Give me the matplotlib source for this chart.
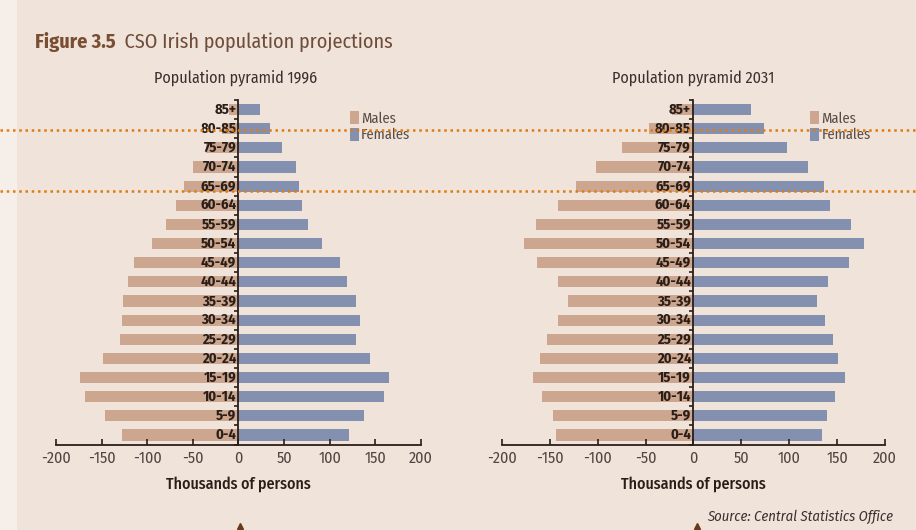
import matplotlib
matplotlib.use("Agg")
import matplotlib.pyplot as plt
from matplotlib.lines import Line2D
from matplotlib.patches import Patch, Rectangle

plt.rcParams["font.family"] = ["Fira Sans Condensed", "DejaVu Sans"]

# age groups, bottom to top
ages = ["0-4", "5-9", "10-14", "15-19", "20-24", "25-29", "30-34", "35-39", "40-44",
        "45-49", "50-54", "55-59", "60-64", "65-69", "70-74", "75-79", "80-85", "85+"]

# thousands of persons
males_1996 = [128, 146, 168, 174, 149, 130, 128, 126, 121, 115, 95, 79, 69, 60, 50, 36, 18, 10]
females_1996 = [121, 137, 159, 165, 144, 129, 133, 129, 119, 111, 91, 76, 70, 66, 63, 48, 35, 24]

males_2031 = [144, 147, 158, 168, 160, 153, 141, 131, 141, 163, 177, 164, 141, 123, 102, 75, 46, 22]
females_2031 = [134, 139, 148, 158, 151, 146, 137, 129, 140, 162, 178, 165, 143, 136, 120, 98, 74, 60]

xticks = [-200, -150, -100, -50, 0, 50, 100, 150, 200]

BG = "#efe3da"
MALE = "#cca68e"
FEMALE = "#8490b0"
DARK = "#2a1e18"


def pyramid(ax, males, females):
    y = list(range(len(ages)))
    ax.barh(y, [-m for m in males], height=0.58, color=MALE, edgecolor="none")
    ax.barh(y, females, height=0.58, color=FEMALE, edgecolor="none")
    ax.set_xlim(-200, 200)
    ax.set_ylim(-0.52, len(ages) - 0.55)
    ax.set_facecolor("none")

    for s in ("top", "right"):
        ax.spines[s].set_visible(False)
    ax.spines["left"].set_position(("data", 0))
    ax.spines["left"].set_linewidth(1.3)
    ax.spines["bottom"].set_linewidth(1.3)
    ax.spines["left"].set_color(DARK)
    ax.spines["bottom"].set_color(DARK)

    ax.set_yticks([k + 0.5 for k in range(-1, len(ages))])
    ax.set_yticklabels([])
    ax.tick_params(axis="y", direction="out", length=3, width=1.2, color=DARK)

    ax.set_xticks(xticks)
    ax.set_xticklabels([str(t) for t in xticks])
    ax.tick_params(axis="x", direction="in", length=4, width=1.2, color=DARK,
                   labelsize=11.5, labelcolor="#4f4542", pad=4)

    for i, a in enumerate(ages):
        ax.text(-2.5, i, a, ha="right", va="center", fontsize=10.5,
                fontweight="bold", color=DARK)

    ax.set_xlabel("Thousands of persons", fontsize=11.5, fontweight="medium",
                  color=DARK, labelpad=7)

    handles = [Patch(facecolor=MALE, edgecolor="none"),
               Patch(facecolor=FEMALE, edgecolor="none")]
    ax.legend(handles, ["Males", "Females"], loc="upper left",
              bbox_to_anchor=(0.79, 0.985), frameon=False,
              labelcolor="#5a4c44", handlelength=0.6, handleheight=1.0,
              handletextpad=0.15, labelspacing=0.15, borderaxespad=0,
              prop={"size": 10.5})


fig = plt.figure(figsize=(9.16, 5.30), dpi=100, facecolor=BG)

# pale strip along the left edge
fig.add_artist(Rectangle((0, 0), 17 / 916, 1, transform=fig.transFigure,
                         facecolor="#f6eee8", edgecolor="none", zorder=0))

ax1 = fig.add_axes([0.0611, 0.1604, 0.3985, 0.6509])
ax2 = fig.add_axes([0.5480, 0.1604, 0.4181, 0.6509])
pyramid(ax1, males_1996, females_1996)
pyramid(ax2, males_2031, females_2031)

fig.text(0.257, 0.853, "Population pyramid 1996", ha="center", va="center",
         fontsize=11.5, color="#3a3030")
fig.text(0.757, 0.853, "Population pyramid 2031", ha="center", va="center",
         fontsize=11.5, color="#3a3030")

t = fig.text(0.038, 0.92, "Figure 3.5", ha="left", va="center", fontsize=14.5,
             fontweight="bold", color="#7a4e33")
fig.add_artist(plt.Annotation("  CSO Irish population projections", xy=(1, 0.5),
                              xycoords=t, ha="left", va="center", fontsize=14.5,
                              color="#6e4c38"))

fig.text(0.975, 0.025, "Source: Central Statistics Office", ha="right", va="center",
         fontsize=10.5, style="italic", color="#3a3030")

# orange dotted guide lines across the whole picture
for yy in (1 - 130 / 530, 1 - 191 / 530):
    fig.add_artist(Line2D([0, 1], [yy, yy], transform=fig.transFigure,
                          color="#e07b12", linewidth=1.8, linestyle=(0, (1, 1.5)),
                          zorder=10))

# small cursor marks at the bottom
for xx in (240 / 916, 697 / 916):
    fig.add_artist(Line2D([xx], [0.008], transform=fig.transFigure, marker="^",
                          markersize=4, color="#6a3a1a", linestyle="none"))

fig.savefig("out.png", dpi=100, facecolor=BG)
